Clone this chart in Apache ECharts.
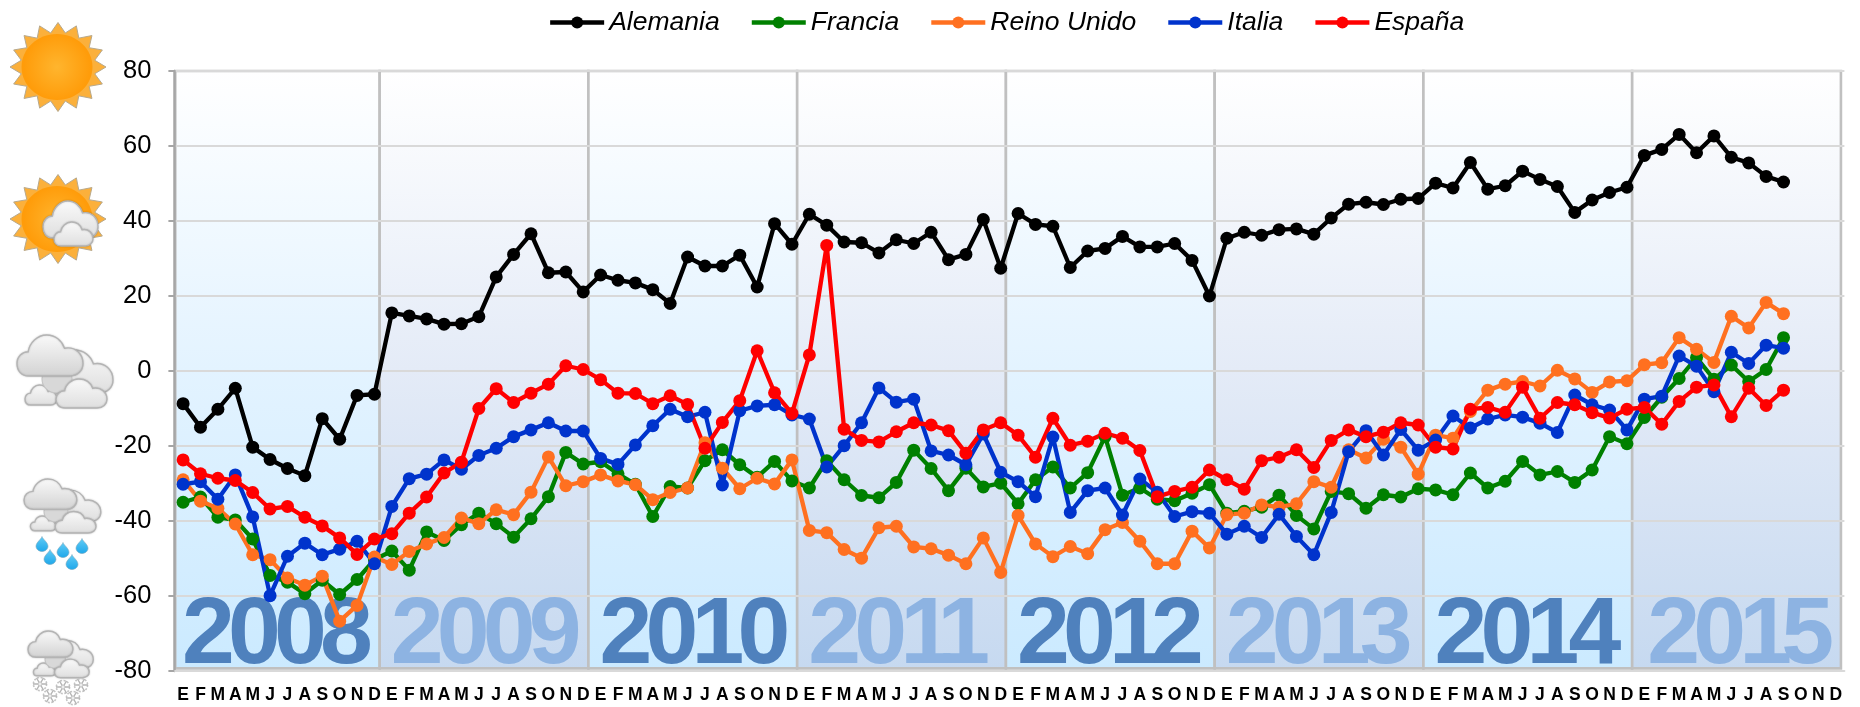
<!DOCTYPE html>
<html><head><meta charset="utf-8">
<style>html,body{margin:0;padding:0;background:#fff}#c{width:1860px;height:707px}</style>
<script src="https://cdn.jsdelivr.net/npm/echarts@6/dist/echarts.min.js"></script>
</head><body><div id="c"></div>
<script>
const monthLetters = ['E','F','M','A','M','J','J','A','S','O','N','D'];
const years = ['2008','2009','2010','2011','2012','2013','2014','2015'];
const yTicks = [-80,-60,-40,-20,0,20,40,60,80];

const alemania = [-8.7,-15,-10.2,-4.6,-20.3,-23.6,-26,-27.9,-12.7,-18.2,-6.5,-6.2,
15.5,14.7,13.9,12.5,12.6,14.5,25.1,31.1,36.6,26.2,26.4,21.1,
25.6,24.2,23.5,21.7,18,30.4,28,28,30.9,22.4,39.3,33.8,
41.8,38.9,34.4,34.2,31.5,35,34,37,29.7,31.1,40.4,27.4,
42,39.1,38.6,27.6,32,32.7,35.9,33.1,33.1,34,29.5,20,
35.4,37,36.2,37.7,37.9,36.5,40.8,44.5,45,44.4,45.8,46,
50.1,48.8,55.6,48.5,49.4,53.3,51.1,49.2,42.3,45.6,47.6,49,
57.5,59.1,63.1,58.2,62.7,57,55.5,51.9,50.4];
const francia = [-35,-33.6,-39,-39.7,-44.8,-54.5,-56.3,-59.4,-55.8,-59.6,-55.6,-50.3,
-48,-53.1,-42.9,-45.2,-41,-37.9,-40.7,-44.3,-39.4,-33.5,-21.7,-24.8,
-24.2,-27.4,-30.2,-38.8,-30.8,-31.2,-23.9,-21,-25,-28.3,-24.1,-29.3,
-31.2,-23.9,-29,-33.2,-33.8,-29.7,-21.1,-26,-31.9,-25.9,-30.9,-29.9,
-35.4,-29,-25.6,-31.2,-27.1,-17.5,-33.1,-31.2,-34.2,-34.6,-32.6,-30.3,
-37.9,-37.4,-36.3,-33.1,-38.5,-42.1,-32.1,-32.7,-36.6,-33,-33.6,-31.4,
-31.7,-33,-27.2,-31.2,-29.4,-24.1,-27.7,-26.8,-29.7,-26.4,-17.5,-19.4,
-12.4,-7,-2,3.6,-2.2,1.6,-2.8,0.4,8.9];
const reinoUnido = [-29,-34.7,-36.6,-40.8,-49,-50.3,-55.2,-57.1,-54.7,-66.7,-62.5,-49.6,
-51.6,-48.1,-46.1,-44.4,-39.2,-40.7,-37,-38.3,-32.3,-22.9,-30.6,-29.5,
-27.7,-29.3,-30.3,-34.3,-32.4,-31.2,-19.1,-25.9,-31.4,-28.6,-30.1,-23.7,
-42.5,-43.1,-47.6,-49.9,-41.8,-41.4,-46.9,-47.4,-49.1,-51.4,-44.5,-53.7,
-38.5,-46.1,-49.5,-46.8,-48.7,-42.3,-40.4,-45.4,-51.4,-51.4,-42.7,-47.2,
-38.3,-37.9,-35.7,-36.3,-35.4,-29.5,-31,-21,-23.2,-18.2,-20.3,-27.5,
-17.1,-17.9,-10.8,-5.1,-3.5,-2.8,-4,0.2,-2.1,-5.7,-2.9,-2.6,
1.7,2.2,8.9,5.8,2.3,14.6,11.5,18.3,15.3];
const italia = [-30.2,-29.5,-34.2,-27.7,-38.9,-59.9,-49.4,-45.9,-49,-47.5,-45.4,-51.4,
-36.1,-28.7,-27.5,-23.7,-26.2,-22.5,-20.6,-17.5,-15.7,-13.8,-16,-16,
-23.3,-24.9,-19.7,-14.6,-10.2,-12.2,-11,-30.4,-10.6,-9.3,-9,-11.7,
-12.8,-25.6,-19.9,-13.8,-4.5,-8.3,-7.5,-21.3,-22.4,-25,-16.8,-27,
-29.5,-33.5,-17.6,-37.7,-31.9,-31.2,-38.4,-28.8,-32.3,-38.8,-37.5,-37.9,
-43.5,-41.4,-44.4,-38.2,-44.1,-49,-37.7,-21.5,-15.9,-22.4,-15.6,-21.1,
-18.4,-12,-15.2,-12.8,-11.7,-12.3,-13.9,-16.4,-6.4,-9,-10.4,-15.7,
-7.5,-6.7,4,1.3,-5.5,5,2,6.9,6.1];
const espana = [-23.7,-27.4,-28.6,-29.2,-32.4,-36.8,-36.1,-39,-41.3,-44.5,-48.9,-44.8,
-43.4,-37.9,-33.6,-27.2,-24.3,-10,-4.7,-8.4,-5.9,-3.5,1.4,0.4,
-2.3,-5.9,-6,-8.7,-6.6,-8.9,-20.6,-13.7,-7.9,5.4,-5.8,-11.3,
4.3,33.5,-15.5,-18.5,-18.9,-16.2,-13.8,-14.4,-15.9,-21.9,-15.7,-13.8,
-17.1,-23,-12.6,-19.8,-18.7,-16.6,-17.9,-21.2,-33.5,-32.1,-31,-26.4,
-29,-31.5,-23.9,-23,-21,-25.7,-18.5,-15.7,-17.5,-16.3,-13.8,-14.4,
-20.3,-20.8,-10.2,-9.7,-11,-4.3,-12.6,-8.4,-9,-11.1,-12.5,-10.2,
-9.7,-14.2,-8.1,-4.3,-3.7,-12.2,-4.6,-9.2,-5.1];

const categories = [];
years.forEach((y, yi) => monthLetters.forEach((m, mi) => categories.push(y + '-' + (mi + 1))));
const FONT = '"Liberation Sans", Arial, sans-serif';
const chart = echarts.init(document.getElementById('c'), null, {renderer: 'canvas'});

function lineSeries(name, data, color) {
  return {name, type: 'line', data, xAxisIndex: 0, yAxisIndex: 0, z: 3,
    symbol: 'circle', symbolSize: 13, showAllSymbol: true,
    lineStyle: {color, width: 4.3, join: 'round'}, itemStyle: {color}, emphasis: {disabled: true}};
}

function renderBand(params, api) {
  const i = params.dataIndex;
  const odd = i % 2 === 0;
  const x0 = api.coord([i === 0 ? 0.05 : i * 12 - 0.2, 80])[0];
  const x1 = api.coord([i * 12 + 11.8, 80])[0];
  const yTop = api.coord([0, 80])[1];
  const yBot = api.coord([0, -79.3])[1];
  const children = [{
    type: 'rect', shape: {x: x0, y: yTop, width: x1 - x0, height: yBot - yTop},
    style: {
      fill: {type: 'linear', x: 0, y: 0, x2: 0, y2: 1, colorStops: odd
        ? [{offset: 0, color: '#ffffff'}, {offset: 0.5, color: '#e3f3ff'}, {offset: 1, color: '#cbeaff'}]
        : [{offset: 0, color: '#ffffff'}, {offset: 0.5, color: '#e4ebf7'}, {offset: 1, color: '#c6d9f0'}]},
      stroke: '#c0c0c0', lineWidth: 2.6
    }
  }];
  const nudge = i === years.length - 1 ? 6 : i === 0 ? 0 : 2;
  let px = (x0 + x1) / 2 - 69 + nudge;
  const cy = api.coord([0, -70.9])[1];
  const digits = years[i].split('');
  digits.forEach((d, k) => {
    if (k > 0) {
      px += 46;
      if (digits[k - 1] === '1') px -= d === '1' ? 9 : d === '0' ? 0 : 4;
    }
    children.push({
      type: 'text',
      style: {text: d, x: px, y: cy, align: 'center', verticalAlign: 'middle',
        font: 'bold 95px ' + FONT, fill: odd ? '#4f81bd' : '#8db3e2'}
    });
  });
  return {type: 'group', children};
}

/* ---- decorative weather icons, drawn by a pixel-space custom series ---- */
const CLOUD = 'M18,60 C6,60 0,52 0,42 C0,32 8,25 17,25 C19,12 31,1 45,1 C58,1 68,9 72,20 C88,17 100,28 100,42 C100,52 92,60 80,60 Z';
function cloud(x, y, w, h, dark) {
  return {type: 'path', shape: {pathData: CLOUD, layout: 'cover', x, y, width: w, height: h},
    style: {fill: {type: 'linear', x: 0, y: 0, x2: 0, y2: 1, colorStops: [
      {offset: 0, color: '#fafafa'}, {offset: 1, color: dark ? '#d2d2d2' : '#dedede'}]},
      stroke: '#b4b4b4', lineWidth: 1.4, shadowBlur: 2, shadowColor: 'rgba(0,0,0,0.18)'}};
}
function sun(cx, cy) {
  const pts = [], n = 16;
  for (let k = 0; k < n * 2; k++) {
    const a = Math.PI * k / n - Math.PI / 2;
    const r = k % 2 === 0 ? 1 : 0.78;
    pts.push([cx + 48 * r * Math.cos(a), cy + 44.5 * r * Math.sin(a)]);
  }
  return [
    {type: 'polygon', shape: {points: pts}, style: {fill: '#fbb03b', stroke: '#b8a98c', lineWidth: 1}},
    {type: 'ellipse', shape: {cx: cx - 1, cy, rx: 35.5, ry: 33},
     style: {fill: {type: 'radial', x: 0.5, y: 0.5, r: 0.5, colorStops: [
       {offset: 0, color: '#ffb52e'}, {offset: 1, color: '#ff9c0a'}]}}}
  ];
}
function cloudGroup(ox, oy, sx, sy) {
  const f = (x, y, w, h, d) => cloud(ox + x * sx, oy + y * sy, w * sx, h * sy, d);
  return [
    f(26, 15, 70, 43), f(8, 50, 32, 20),
    {type: 'ellipse', shape: {cx: ox + 40 * sx, cy: oy + 44 * sy, rx: 15 * sx, ry: 14 * sy}, style: {fill: '#d8d8d8', stroke: '#c4c4c4'}},
    f(0, 0, 66, 41, true), f(39, 44, 51, 29)
  ];
}
function drop(x, y) {
  return {type: 'path', shape: {pathData: 'M6,0 C7,4 12,8 12,13 C12,17 9,20 6,20 C3,20 0,17 0,13 C0,8 5,4 6,0 Z',
    layout: 'cover', x: x - 6, y: y - 7.5, width: 12, height: 15},
    style: {fill: {type: 'linear', x: 0, y: 0, x2: 0, y2: 1, colorStops: [{offset: 0, color: '#62cdf6'}, {offset: 1, color: '#1ea7ea'}]},
      stroke: '#7fa9bd', lineWidth: 0.6}};
}
function flake(x, y) {
  const r = 7, d = 'M' + (x - r) + ',' + y + ' L' + (x + r) + ',' + y +
    ' M' + (x - r * .5) + ',' + (y - r * .87) + ' L' + (x + r * .5) + ',' + (y + r * .87) +
    ' M' + (x - r * .5) + ',' + (y + r * .87) + ' L' + (x + r * .5) + ',' + (y - r * .87);
  return [
    {type: 'circle', shape: {cx: x, cy: y, r: 6.6}, style: {fill: 'none', stroke: '#c4c4c4', lineWidth: 1.6, lineDash: [2, 1.5]}},
    {type: 'path', shape: {pathData: d}, style: {fill: 'none', stroke: '#b5b5b5', lineWidth: 1.3}},
    {type: 'circle', shape: {cx: x, cy: y, r: 2}, style: {fill: '#eeeeee', stroke: '#bdbdbd', lineWidth: 0.8}}
  ];
}
function renderIcons() {
  return {type: 'group', children: [].concat(
    sun(58, 67),
    sun(58, 219), [cloud(43, 201, 55, 37), cloud(54, 222, 39, 24)],
    cloudGroup(17, 335, 1, 1),
    cloudGroup(24, 479, 0.8, 0.74),
    [[42, 544], [50, 557], [63, 550], [72, 562], [82, 546]].map(p => drop(p[0], p[1])),
    cloudGroup(28, 631, 0.68, 0.64),
    flake(40, 684), flake(50, 696), flake(63, 687), flake(81, 685), flake(73, 698)
  )};
}

chart.setOption({
  animation: false,
  backgroundColor: '#ffffff',
  textStyle: {fontFamily: FONT},
  grid: {left: 174.4, top: 71, width: 1670, height: 600, containLabel: false},
  legend: {
    left: 543, top: 4, itemWidth: 54, itemHeight: 15, itemGap: 30,
    lineStyle: {width: 4.3},
    textStyle: {fontFamily: FONT, fontStyle: 'italic', fontSize: 26.5, color: '#000'},
    data: ['Alemania', 'Francia', 'Reino Unido', 'Italia', 'España']
  },
  xAxis: [{
    type: 'category', data: categories, position: 'bottom', boundaryGap: true,
    axisLine: {show: true, onZero: false, lineStyle: {color: '#d9d9d9', width: 2}},
    axisTick: {show: false},
    axisLabel: {interval: 0, margin: 15, color: '#000', fontFamily: FONT, fontWeight: 'bold', fontSize: 17.5,
      formatter: (v, idx) => monthLetters[idx % 12]},
    splitLine: {show: false}
  }, {
    type: 'value', min: 0, max: 96, show: false, splitLine: {show: false}
  }],
  yAxis: [{
    type: 'value', min: yTicks[0], max: yTicks[yTicks.length - 1], interval: 20,
    axisLine: {show: true, onZero: false, lineStyle: {color: '#a6a6a6', width: 2.5}},
    axisTick: {show: true, length: 6, lineStyle: {color: '#a6a6a6', width: 2}},
    axisLabel: {margin: 23, color: '#000', fontFamily: FONT, fontSize: 25.5},
    splitLine: {show: true, lineStyle: {color: '#d9d9d9', width: 2}}
  }],
  series: [
    {type: 'custom', name: 'bandas', xAxisIndex: 1, yAxisIndex: 0, z: -1, silent: true, clip: false,
      renderItem: renderBand, data: years.map((y, i) => [i * 12, 0]), encode: {x: 0, y: 1}},
    {type: 'custom', name: 'iconos', coordinateSystem: 'none', z: 6, silent: true, clip: false,
      renderItem: renderIcons, data: [[0]]},
    lineSeries('Alemania', alemania, '#000000'),
    lineSeries('Francia', francia, '#008000'),
    lineSeries('Reino Unido', reinoUnido, '#ff7020'),
    lineSeries('Italia', italia, '#0033cc'),
    lineSeries('España', espana, '#ff0000')
  ]
});
</script></body></html>
